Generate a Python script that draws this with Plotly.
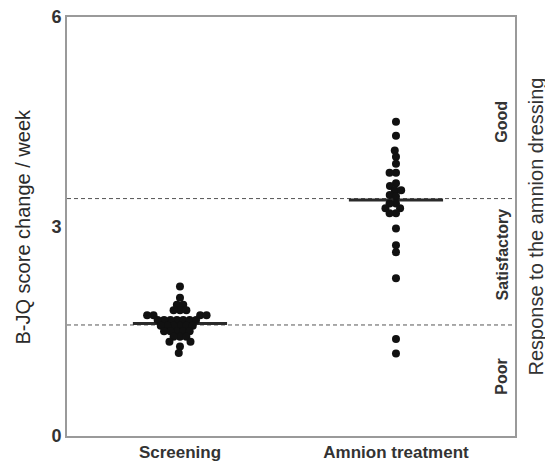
import math
import plotly.graph_objects as go

# ---- data ----
categories = ["Screening", "Amnion treatment"]
screening_values = [2.14, 1.98, 1.88, 1.88, 1.80, 1.80, 1.80,
                    1.73, 1.73, 1.73, 1.73,
                    1.66, 1.66, 1.66, 1.66, 1.66, 1.66, 1.66,
                    1.58, 1.58, 1.58, 1.58, 1.58, 1.58,
                    1.50, 1.50, 1.50, 1.50, 1.50,
                    1.42, 1.42, 1.42, 1.35, 1.35, 1.28, 1.19]
amnion_values = [4.50, 4.30, 4.09, 4.00, 3.90, 3.77, 3.77, 3.62, 3.58,
                 3.52, 3.52, 3.45, 3.43, 3.33, 3.33, 3.26, 3.26, 3.19, 3.19,
                 2.97, 2.73, 2.63, 2.26, 1.39, 1.18]
group_means = [1.61, 3.38]
thresholds = [1.59, 3.40]
zone_labels = ["Good", "Satisfactory", "Poor"]
zone_label_y = [4.5, 2.6, 0.85]
y_ticks = [0, 3, 6]

# ---- layout geometry (page body adds an 8px offset) ----
W, H = 545, 454
ML, MR, MT, MB = 59, 38, 9, 26
X_RANGE = [-0.523, 1.551]
Y_RANGE = [0, 6]
plot_w = W - ML - MR
plot_h = H - MT - MB
px_per_x = plot_w / (X_RANGE[1] - X_RANGE[0])
px_per_y = plot_h / (Y_RANGE[1] - Y_RANGE[0])
DOT = 8
MIN_DIST = 6.4

FONT = "Liberation Sans, Arial"


def swarm_offsets(values, center):
    """Simple beeswarm placed centre-out: offset each point (x data units) to avoid overlap."""
    order = sorted(range(len(values)), key=lambda i: (abs(values[i] - center), values[i]))
    placed = []
    offs = [0.0] * len(values)
    for i in order:
        y = values[i] * px_per_y
        cands = [0.0]
        for (px, py) in placed:
            dy = y - py
            if abs(dy) < MIN_DIST:
                dx = math.sqrt(MIN_DIST ** 2 - dy ** 2)
                cands += [px + dx, px - dx]
        cands.sort(key=lambda c: (abs(c), c))
        for c in cands:
            if all((c - px) ** 2 + (y - py) ** 2 >= MIN_DIST ** 2 - 1e-6 for px, py in placed):
                break
        placed.append((c, y))
        offs[i] = c / px_per_x
    return offs


fig = go.Figure()

for gi, vals in enumerate([screening_values, amnion_values]):
    offs = swarm_offsets(vals, group_means[gi])
    fig.add_trace(go.Scatter(
        x=[gi + o for o in offs], y=vals, mode="markers",
        marker=dict(size=DOT, color="#111111", line=dict(width=0)),
        showlegend=False, hoverinfo="y"))

# mean lines
MEAN_HALF = 0.218
for gi, m in enumerate(group_means):
    fig.add_shape(type="line", xref="x", yref="y",
                  x0=gi - MEAN_HALF, x1=gi + MEAN_HALF, y0=m, y1=m,
                  line=dict(color="#2a2a2a", width=3), layer="below")

# threshold dashed lines
for t in thresholds:
    fig.add_shape(type="line", xref="paper", yref="y", x0=0, x1=1, y0=t, y1=t,
                  line=dict(color="#555555", width=1, dash="4px,3px"), layer="below")

# zone labels (rotated)
for lab, yy in zip(zone_labels, zone_label_y):
    fig.add_annotation(xref="paper", yref="y", x=1 - 13 / plot_w, y=yy, text=lab,
                       xanchor="center", yanchor="middle",
                       textangle=-90, showarrow=False,
                       font=dict(family=FONT, size=16, color="#333333", weight="bold"))

# right-side title
fig.add_annotation(xref="paper", yref="paper", x=1 + 20 / plot_w, y=0.5,
                   xanchor="center", yanchor="middle",
                   text="Response to the amnion dressing", textangle=-90, showarrow=False,
                   font=dict(family=FONT, size=20, color="#333333"))

# left-side title
fig.add_annotation(xref="paper", yref="paper", x=-45 / plot_w, y=0.5,
                   xanchor="center", yanchor="middle",
                   text="B-JQ score change / week", textangle=-90, showarrow=False,
                   font=dict(family=FONT, size=20, color="#2a2a2a"))

fig.update_layout(
    width=W, height=H,
    margin=dict(l=ML, r=MR, t=MT, b=MB, pad=0),
    paper_bgcolor="white", plot_bgcolor="white",
    font=dict(family=FONT, color="#333333"),
    xaxis=dict(range=X_RANGE, tickvals=[0, 1], ticktext=categories,
               showgrid=False, zeroline=False, showline=True, mirror=True,
               linecolor="#9a9a9a", linewidth=2, ticks="", automargin=False,
               ticklabeloverflow="allow",
               tickfont=dict(size=17, color="#333333", weight="bold")),
    yaxis=dict(range=Y_RANGE, tickvals=y_ticks, ticktext=[str(v) for v in y_ticks],
               showgrid=False, zeroline=False, showline=True, mirror=True,
               linecolor="#9a9a9a", linewidth=2, ticks="", automargin=False,
               ticklabeloverflow="allow",
               tickfont=dict(size=18, color="#333333", weight="bold")),
)

fig.write_html("out.html")
